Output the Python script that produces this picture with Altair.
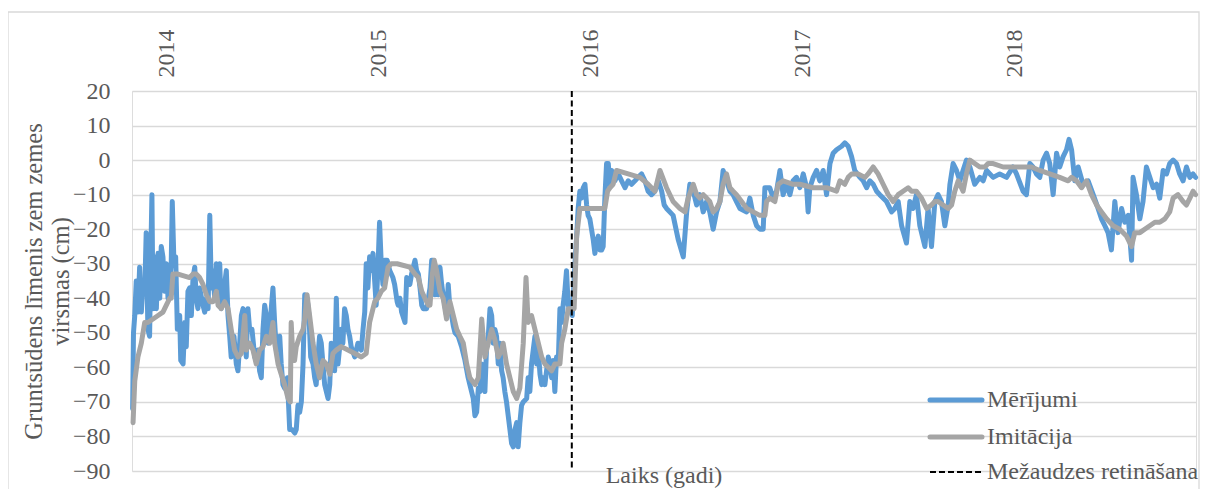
import altair as alt
import pandas as pd

# ---------------- data ----------------
# time as decimal years, values in cm
meas_t = [2013.840, 2013.844, 2013.850, 2013.857, 2013.865, 2013.873, 2013.881, 2013.889, 2013.897, 2013.904,
          2013.912, 2013.920, 2013.928, 2013.931, 2013.936, 2013.944, 2013.952, 2013.960, 2013.968, 2013.975,
          2013.983, 2013.991, 2013.999, 2014.007, 2014.022, 2014.027, 2014.035, 2014.043, 2014.051, 2014.062,
          2014.067, 2014.078, 2014.086, 2014.093, 2014.101, 2014.109, 2014.117, 2014.125, 2014.133, 2014.140,
          2014.148, 2014.156, 2014.172, 2014.180, 2014.188, 2014.196, 2014.204, 2014.211, 2014.219, 2014.227,
          2014.235, 2014.243, 2014.251, 2014.258, 2014.266, 2014.282, 2014.290, 2014.298, 2014.305, 2014.318,
          2014.329, 2014.337, 2014.353, 2014.361, 2014.369, 2014.376, 2014.384, 2014.392, 2014.403, 2014.416,
          2014.431, 2014.439, 2014.447, 2014.455, 2014.463, 2014.471, 2014.479, 2014.487, 2014.494, 2014.502,
          2014.510, 2014.518, 2014.534, 2014.541, 2014.549, 2014.557, 2014.570, 2014.581, 2014.592, 2014.605,
          2014.612, 2014.620, 2014.628, 2014.636, 2014.644, 2014.652, 2014.663, 2014.672, 2014.680, 2014.691,
          2014.699, 2014.706, 2014.714, 2014.722, 2014.730, 2014.738, 2014.746, 2014.754, 2014.762, 2014.770,
          2014.777, 2014.785, 2014.793, 2014.801, 2014.809, 2014.817, 2014.824, 2014.832, 2014.840, 2014.848,
          2014.856, 2014.864, 2014.871, 2014.888, 2014.903, 2014.919, 2014.927, 2014.935, 2014.942, 2014.950,
          2014.958, 2014.966, 2014.974, 2014.982, 2014.989, 2014.997, 2015.005, 2015.013, 2015.021, 2015.029,
          2015.041, 2015.053, 2015.068, 2015.076, 2015.088, 2015.093, 2015.101, 2015.109, 2015.125, 2015.133,
          2015.148, 2015.156, 2015.172, 2015.180, 2015.188, 2015.196, 2015.204, 2015.211, 2015.227, 2015.243,
          2015.251, 2015.258, 2015.266, 2015.274, 2015.282, 2015.290, 2015.298, 2015.305, 2015.313, 2015.321,
          2015.329, 2015.337, 2015.345, 2015.353, 2015.361, 2015.376, 2015.392, 2015.408, 2015.423, 2015.431,
          2015.447, 2015.455, 2015.463, 2015.471, 2015.479, 2015.487, 2015.494, 2015.502, 2015.510, 2015.518,
          2015.526, 2015.534, 2015.541, 2015.549, 2015.557, 2015.565, 2015.573, 2015.581, 2015.588, 2015.596,
          2015.604, 2015.612, 2015.620, 2015.628, 2015.636, 2015.644, 2015.652, 2015.659, 2015.667, 2015.675,
          2015.683, 2015.699, 2015.706, 2015.714, 2015.722, 2015.730, 2015.738, 2015.746, 2015.754, 2015.762,
          2015.770, 2015.777, 2015.785, 2015.793, 2015.801, 2015.809, 2015.817, 2015.824, 2015.832, 2015.840,
          2015.848, 2015.856, 2015.864, 2015.871, 2015.879, 2015.887, 2015.895, 2015.903, 2015.914, 2015.927,
          2015.935, 2015.942, 2015.950, 2015.958, 2015.966, 2015.974, 2015.982, 2015.989, 2015.997, 2016.005,
          2016.013, 2016.021, 2016.029, 2016.037, 2016.045, 2016.053, 2016.060, 2016.068, 2016.076, 2016.084,
          2016.092, 2016.100, 2016.115, 2016.131, 2016.147, 2016.163, 2016.178, 2016.194, 2016.210, 2016.225,
          2016.241, 2016.257, 2016.272, 2016.288, 2016.304, 2016.320, 2016.336, 2016.348, 2016.359, 2016.390,
          2016.414, 2016.438, 2016.454, 2016.469, 2016.485, 2016.501, 2016.516, 2016.532, 2016.548, 2016.563,
          2016.579, 2016.595, 2016.611, 2016.626, 2016.642, 2016.658, 2016.673, 2016.689, 2016.705, 2016.737,
          2016.752, 2016.768, 2016.784, 2016.799, 2016.815, 2016.823, 2016.846, 2016.862, 2016.878, 2016.894,
          2016.909, 2016.925, 2016.941, 2016.956, 2016.972, 2016.988, 2017.004, 2017.020, 2017.027, 2017.035,
          2017.051, 2017.067, 2017.082, 2017.098, 2017.114, 2017.130, 2017.145, 2017.161, 2017.185, 2017.200,
          2017.216, 2017.232, 2017.247, 2017.271, 2017.287, 2017.303, 2017.318, 2017.334, 2017.350, 2017.365,
          2017.397, 2017.421, 2017.436, 2017.452, 2017.468, 2017.491, 2017.507, 2017.522, 2017.538, 2017.554,
          2017.578, 2017.593, 2017.609, 2017.625, 2017.640, 2017.656, 2017.672, 2017.688, 2017.696, 2017.711,
          2017.727, 2017.743, 2017.758, 2017.774, 2017.790, 2017.813, 2017.837, 2017.853, 2017.869, 2017.900,
          2017.931, 2017.963, 2017.994, 2018.010, 2018.041, 2018.057, 2018.073, 2018.088, 2018.104, 2018.120,
          2018.136, 2018.152, 2018.167, 2018.183, 2018.199, 2018.214, 2018.230, 2018.246, 2018.258, 2018.270,
          2018.285, 2018.301, 2018.324, 2018.348, 2018.372, 2018.395, 2018.411, 2018.427, 2018.442, 2018.458,
          2018.474, 2018.489, 2018.506, 2018.521, 2018.537, 2018.553, 2018.560, 2018.576, 2018.592, 2018.607,
          2018.623, 2018.639, 2018.655, 2018.671, 2018.686, 2018.702, 2018.718, 2018.733, 2018.749, 2018.765,
          2018.780, 2018.796, 2018.812, 2018.828, 2018.843, 2018.855]
meas_v = [-72, -50, -45, -35, -44, -31, -44, -36, -38, -21,
          -49, -51, -20, -10, -43, -28, -43, -27, -40, -25,
          -28, -38, -30, -40, -30, -12, -30, -28, -49, -45,
          -58, -59, -47, -54, -38, -37, -45, -34, -31, -40,
          -43, -37, -42, -44, -40, -43, -16, -37, -32, -40,
          -30, -37, -30, -43, -40, -32, -45, -51, -57, -51,
          -59, -61, -45, -43, -45, -57, -43, -49, -49, -57,
          -55, -61, -63, -49, -42, -45, -53, -49, -43, -37,
          -47, -55, -51, -59, -65, -66, -63, -78, -78, -79,
          -78, -71, -73, -70, -59, -39, -40, -45, -57, -59,
          -63, -65, -57, -51, -53, -59, -65, -67, -69, -65,
          -53, -55, -61, -40, -59, -54, -49, -53, -43, -45,
          -49, -51, -54, -57, -53, -55, -49, -44, -30, -37,
          -28, -32, -27, -35, -42, -32, -18, -30, -36, -29,
          -29, -32, -34, -36, -41, -42, -40, -44, -47, -34,
          -36, -33, -29, -32, -33, -37, -42, -43, -43, -37,
          -29, -29, -39, -36, -39, -31, -36, -39, -42, -45,
          -36, -43, -45, -48, -50, -51, -54, -58, -63, -65,
          -69, -74, -73, -66, -67, -59, -65, -67, -54, -51,
          -43, -45, -53, -49, -51, -59, -53, -61, -63, -67,
          -70, -74, -78, -82, -83, -78, -76, -83, -76, -71,
          -70, -69, -63, -67, -59, -55, -51, -59, -55, -62,
          -65, -63, -65, -61, -57, -59, -63, -58, -67, -57,
          -59, -43, -47, -42, -38, -32, -42, -43, -45, -30,
          -22, -14, -9, -11, -8, -7, -13, -16, -17, -20,
          -23, -27, -24, -22, -26, -26, -25, -11, -1, -1,
          -7, -3, -6, -4, -6, -8, -6, -7, -6, -5,
          -4, -6, -9, -10, -9, -6, -9, -13, -14, -16,
          -23, -28, -15, -7, -9, -13, -10, -15, -12, -15,
          -20, -15, -12, -3, -6, -9, -10, -12, -14, -15,
          -11, -16, -19, -20, -20, -8, -8, -11, -9, -3,
          -10, -7, -10, -6, -5, -8, -4, -8, -15, -8,
          -5, -3, -6, -3, -10, -1, 2, 3, 4, 5,
          4, 1, -3, -5, -6, -8, -6, -7, -9, -10,
          -12, -15, -14, -12, -19, -24, -12, -14, -10, -19,
          -25, -14, -25, -12, -10, -12, -19, -13, -7, -1,
          -3, -6, -3, 0, -2, -7, -5, -6, -3, -5,
          -4, -5, -2, -4, -9, -10, -1, -2, -4, -5,
          0, 2, -1, -10, 2, -2, 1, 3, 6, 3,
          -6, -2, -7, -6, -10, -14, -17, -19, -21, -26,
          -12, -21, -14, -18, -16, -29, -5, -10, -17, -12,
          -2, -5, -8, -7, -11, -3, -4, -1, 0, -1,
          -4, -6, -2, -5, -4, -5]

sim_t = [2013.842, 2013.850, 2013.865, 2013.881, 2013.897, 2013.912, 2013.936, 2013.960, 2013.983, 2013.999,
         2014.015, 2014.022, 2014.030, 2014.054, 2014.109, 2014.125, 2014.140, 2014.156, 2014.172, 2014.188,
         2014.204, 2014.219, 2014.235, 2014.243, 2014.258, 2014.274, 2014.290, 2014.305, 2014.321, 2014.337,
         2014.353, 2014.369, 2014.376, 2014.392, 2014.408, 2014.423, 2014.439, 2014.455, 2014.471, 2014.487,
         2014.502, 2014.510, 2014.526, 2014.541, 2014.557, 2014.573, 2014.584, 2014.588, 2014.596, 2014.604,
         2014.612, 2014.628, 2014.644, 2014.652, 2014.663, 2014.675, 2014.691, 2014.706, 2014.722, 2014.738,
         2014.754, 2014.770, 2014.785, 2014.801, 2014.824, 2014.856, 2014.888, 2014.919, 2014.942, 2014.958,
         2014.974, 2014.982, 2014.997, 2015.013, 2015.029, 2015.045, 2015.060, 2015.088, 2015.148, 2015.172,
         2015.188, 2015.204, 2015.219, 2015.235, 2015.243, 2015.254, 2015.263, 2015.274, 2015.290, 2015.305,
         2015.321, 2015.337, 2015.353, 2015.369, 2015.384, 2015.400, 2015.416, 2015.431, 2015.455, 2015.471,
         2015.487, 2015.502, 2015.518, 2015.534, 2015.549, 2015.565, 2015.581, 2015.588, 2015.604, 2015.620,
         2015.636, 2015.652, 2015.667, 2015.683, 2015.696, 2015.706, 2015.722, 2015.738, 2015.754, 2015.770,
         2015.785, 2015.801, 2015.817, 2015.832, 2015.856, 2015.864, 2015.879, 2015.895, 2015.923, 2015.935,
         2015.950, 2015.974, 2016.021, 2016.068, 2016.081, 2016.092, 2016.107, 2016.123, 2016.233, 2016.272,
         2016.304, 2016.328, 2016.359, 2016.390, 2016.422, 2016.446, 2016.461, 2016.485, 2016.501, 2016.516,
         2016.532, 2016.548, 2016.563, 2016.579, 2016.595, 2016.611, 2016.626, 2016.642, 2016.658, 2016.673,
         2016.689, 2016.713, 2016.737, 2016.768, 2016.799, 2016.823, 2016.831, 2016.846, 2016.870, 2016.886,
         2016.909, 2016.956, 2016.988, 2017.051, 2017.114, 2017.161, 2017.177, 2017.200, 2017.216, 2017.232,
         2017.263, 2017.295, 2017.310, 2017.334, 2017.357, 2017.381, 2017.405, 2017.428, 2017.452, 2017.475,
         2017.499, 2017.515, 2017.538, 2017.562, 2017.586, 2017.609, 2017.625, 2017.640, 2017.664, 2017.688,
         2017.704, 2017.719, 2017.735, 2017.758, 2017.774, 2017.790, 2017.813, 2017.837, 2017.861, 2017.876,
         2017.900, 2017.947, 2017.994, 2018.041, 2018.081, 2018.120, 2018.167, 2018.214, 2018.254, 2018.270,
         2018.293, 2018.317, 2018.340, 2018.364, 2018.388, 2018.411, 2018.435, 2018.466, 2018.497, 2018.529,
         2018.553, 2018.568, 2018.592, 2018.615, 2018.639, 2018.663, 2018.686, 2018.710, 2018.733, 2018.749,
         2018.772, 2018.796, 2018.812, 2018.828, 2018.843, 2018.855]
sim_v = [-76, -64, -57, -53, -47, -47, -46, -45, -44, -42,
         -40, -40, -33, -33, -34, -33, -33, -34, -36, -39,
         -41, -41, -38, -42, -43, -41, -43, -49, -55, -57,
         -56, -45, -55, -53, -55, -59, -55, -54, -51, -53,
         -47, -53, -59, -62, -65, -69, -70, -47, -57, -58,
         -54, -51, -49, -46, -39, -45, -53, -59, -63, -58,
         -59, -62, -56, -55, -54, -55, -56, -57, -56, -47,
         -43, -41, -40, -38, -37, -31, -30, -30, -31, -33,
         -34, -38, -40, -42, -42, -33, -29, -32, -38, -40,
         -46, -41, -45, -49, -51, -53, -59, -63, -65, -63,
         -46, -57, -53, -49, -52, -57, -55, -53, -59, -63,
         -67, -69, -66, -53, -34, -47, -45, -49, -53, -57,
         -59, -60, -61, -59, -59, -53, -49, -43, -43, -22,
         -14, -14, -14, -14, -9, -8, -7, -3, -5, -7,
         -9, -3, -8, -12, -14, -15, -11, -7, -10, -11,
         -10, -11, -12, -15, -14, -12, -7, -4, -8, -9,
         -10, -12, -14, -15, -16, -16, -12, -11, -12, -7,
         -6, -7, -7, -8, -8, -9, -6, -7, -5, -4,
         -4, -5, -4, -2, -4, -7, -10, -12, -10, -9,
         -8, -9, -9, -11, -14, -13, -12, -12, -13, -14,
         -13, -9, -6, -9, -4, 0, -1, -2, -2, -1,
         -1, -2, -2, -2, -2, -3, -4, -5, -6, -5,
         -6, -8, -6, -10, -13, -15, -17, -19, -20, -22,
         -25, -21, -21, -20, -19, -18, -18, -17, -15, -11,
         -10, -12, -13, -11, -9, -10]

thinning_t = [2015.912]

series_names = ["Mērījumi", "Imitācija", "Mežaudzes retināšana"]
series_colors = ["#5B9BD5", "#A5A5A5", "#000000"]
year_ticks = [2014, 2015, 2016, 2017, 2018]
y_ticks = [20, 10, 0, -10, -20, -30, -40, -50, -60, -70, -80, -90]
y_title = ["Gruntsūdens līmenis zem zemes", "virsmas (cm)"]
x_title = "Laiks (gadi)"

# ---------------- chart ----------------
FONT = "Liberation Serif"
TXT = "#595959"
FS = 24
W, H = 1064, 380

df_meas = pd.DataFrame({"t": meas_t, "v": meas_v})
df_sim = pd.DataFrame({"t": sim_t, "v": sim_v})
df_thin = pd.DataFrame({"t": thinning_t})
one = pd.DataFrame({"k": [0]})

x_enc = alt.X(
    "t:Q",
    scale=alt.Scale(domain=[2013.837, 2018.857], nice=False, zero=False),
    axis=alt.Axis(orient="top", values=year_ticks, tickCount=len(year_ticks), format="d",
                  labelAngle=270, labelAlign="left", labelBaseline="middle", labelPadding=14,
                  labelOverlap=False, ticks=False, domain=False, grid=False, title=None,
                  labelFont=FONT, labelFontSize=FS, labelColor=TXT),
)
y_enc = alt.Y(
    "v:Q",
    scale=alt.Scale(domain=[-90, 20], nice=False, zero=False),
    axis=alt.Axis(values=y_ticks, tickCount=len(y_ticks), ticks=False, domain=False, grid=True,
                  labelOverlap=False, gridColor="#D9D9D9", gridWidth=1.3, labelPadding=22,
                  labelFont=FONT, labelFontSize=FS, labelColor=TXT,
                  title=y_title, titleFont=FONT, titleFontSize=24.5, titleColor=TXT,
                  titleFontWeight="normal", titleAngle=270, titleX=-98, titleY=H / 2,
                  titleAlign="center", titleBaseline="middle", titleLineHeight=27),
)

frame = alt.Chart(one).mark_rect(fillOpacity=0, stroke="#D9D9D9", strokeWidth=1.3).encode(
    x=alt.value(-124), x2=alt.value(W + 3), y=alt.value(-79), y2=alt.value(H + 60))

line_meas = alt.Chart(df_meas).mark_line(
    color=series_colors[0], strokeWidth=5, strokeJoin="round", strokeCap="round"
).encode(x=x_enc, y=y_enc)

line_sim = alt.Chart(df_sim).mark_line(
    color=series_colors[1], strokeWidth=5, strokeJoin="round", strokeCap="round"
).encode(x="t:Q", y="v:Q")

rule = alt.Chart(df_thin).mark_rule(
    color=series_colors[2], strokeWidth=2, strokeDash=[6, 3.5]
).encode(x="t:Q")

xtitle = alt.Chart(one).mark_text(
    text=x_title, font=FONT, fontSize=FS, color=TXT, align="center", baseline="middle"
).encode(x=alt.value(W / 2), y=alt.value(385))

legend_layers = []
leg_rows = [309, 346, 381]
leg_dash = [[1, 0], [1, 0], [6, 3]]
leg_w = [5, 5, 2]
leg_cap = ["round", "round", "butt"]
for i, name in enumerate(series_names):
    legend_layers.append(
        alt.Chart(one).mark_rule(color=series_colors[i], strokeWidth=leg_w[i],
                                 strokeDash=leg_dash[i], strokeCap=leg_cap[i]).encode(
            x=alt.value(798), x2=alt.value(850), y=alt.value(leg_rows[i]))
    )
    legend_layers.append(
        alt.Chart(one).mark_text(text=name, font=FONT, fontSize=FS, color=TXT,
                                 align="left", baseline="middle").encode(
            x=alt.value(855), y=alt.value(leg_rows[i]))
    )

chart = alt.layer(frame, line_meas, line_sim, rule, xtitle, *legend_layers).properties(
    width=W, height=H,
    autosize=alt.AutoSizeParams(type="none"),
    padding={"left": 124, "top": 83, "right": 4, "bottom": 18},
).configure_view(stroke=None).configure(font=FONT)

chart.save("out.html", embed_options={"renderer": "svg", "actions": False})
